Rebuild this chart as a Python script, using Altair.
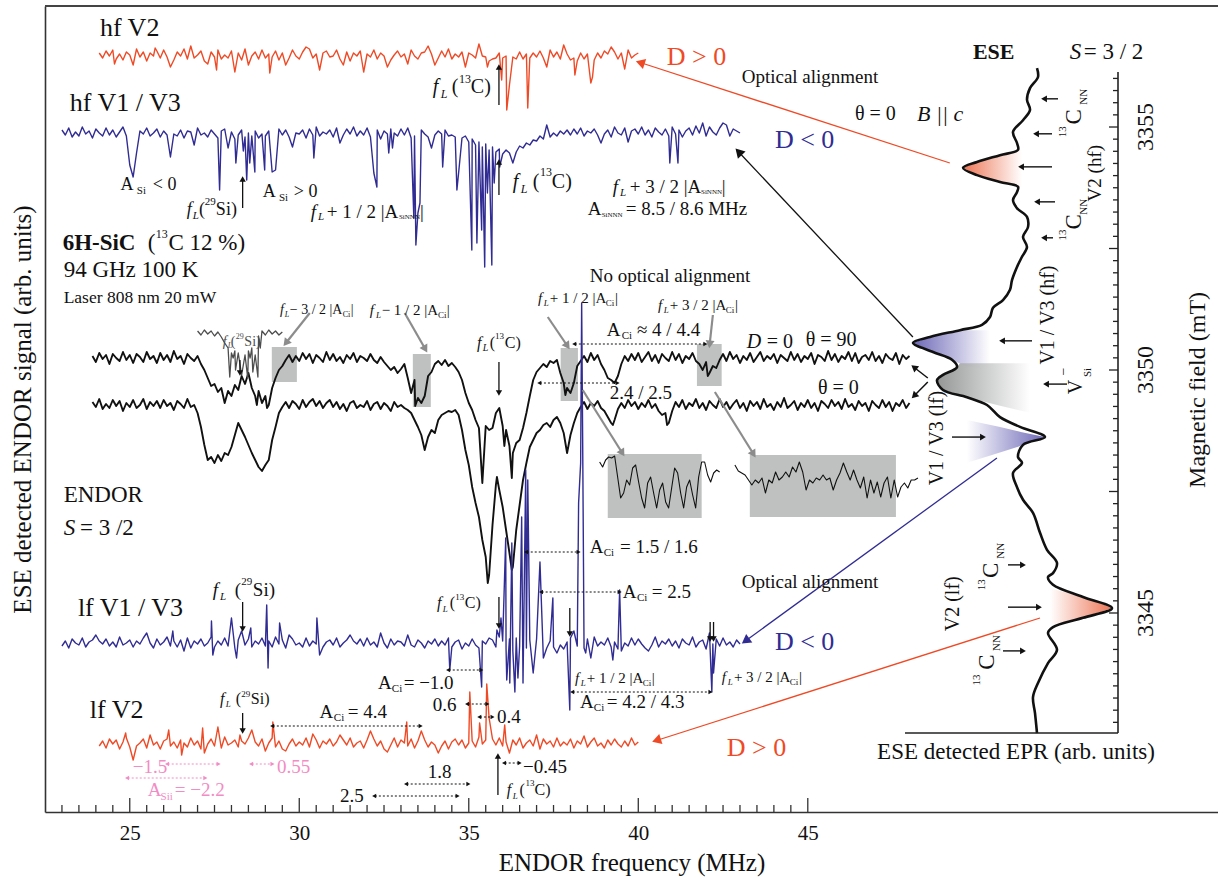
import math
import altair as alt
import pandas as pd
import numpy as np

FONT = "Liberation Serif"
RED = "#EF4A26"
BLUE = "#302C93"
INK = "#111111"
GREY = "#4D4D4D"
ARROW_GREY = "#8C8C8C"
BOX = "#BFC1C1"
PINK = "#F28CC4"

W, H = 1173, 806
X_DOM = [22.5, 57.1]          # ENDOR frequency (MHz)
Y_DOM = [0, 806]              # ENDOR signal (arb. units, stacked)
S_DOM = [-860, 313]           # EPR signal (arb. units)
B_DOM = [3340.905, 3357.49]   # magnetic field (mT)
STEP = 0.1

# ---------------- ENDOR traces (grid values, relative to each baseline) ----------------
HF_V2_START, HF_V2_OFFSET = 24.1, 757
HF_V2 = [2,-3,4,-1,5,-4,1,-5,3,0,-4,6,-2,3,-6,2,-1,4,-3,5,
         -2,1,-5,3,-1,6,-4,2,-3,0,4,-6,1,3,-2,5,-4,0,-3,4,
         -1,2,-5,6,-2,-1,3,-4,5,-3,1,-2,4,-5,2,0,-3,5,-1,-4,
         3,-2,6,-3,1,-5,2,4,-2,-1,5,-4,0,3,-6,2,-1,4,-3,1,
         -2,5,-4,2,-1,3,-5,0,4,-2,1,-3,5,-1,-4,2,3,-5,1,0,
         -3,4,-2,6,-4,1,-2,3,-5,2,0,-3,4,-1,-2,-6,-4,-3,2,-3,
         -1,-5,-2,-4,3,-4,1,-3,2,-2,4,-3,1,5,-2,3,-4,-6,1,-5,
         -3,-6,2,-4,1,-7,-5,2,-3,4,1,-2,3,-4,2,-1,5,-3,0,2]
HF_V2_LINES = [(24.55,-9),(25.1,-10),(25.75,7),(26.2,-12),(26.8,9),(27.3,-9),(27.56,-15),(28.1,-17),
               (28.5,-10),(29.13,-18),(29.6,-10),(30.2,8),(30.6,-15),(31.3,-10),(31.9,-17),(32.6,-12),
               (33.2,-9),(33.8,9),(34.0,-10),(34.9,-12),(35.3,11),(35.55,-12),(35.97,-25),(36.12,-55),
               (36.2,-30),(36.74,-53),(37.3,-12),(37.8,10),(38.13,-20),(38.6,-28),(38.65,-22),(39.2,8),(39.6,-14)]

HF_V13_START, HF_V13_OFFSET = 23.0, 679
HF_V13 = [3,-2,5,-4,1,-3,6,-1,2,-5,4,0,-3,5,-2,3,-4,1,6,-3,
          -2,4,-5,2,-1,5,-3,0,4,-4,2,-2,6,-1,-3,3,-5,2,1,-4,
          5,-2,0,-4,3,-1,-5,2,4,-3,1,-6,-2,3,-4,0,-3,2,-5,-1,
          -3,2,-6,1,4,-2,3,-4,5,0,-1,3,-5,4,-2,6,-3,1,-1,3,
          -4,5,0,-2,4,-1,6,-3,2,-2,5,-4,1,3,-6,2,-1,4,0,-3,
          4,-2,5,-5,-3,1,3,-1,-4,5,-2,2,-1,3,-3,-2,-4,-1,-5,-3,
          -9,-6,-12,-9,-14,-11,-17,-14,-19,-16,-21,-17,-20,-16,-19,-13,-15,-10,-12,-7,
          -8,-3,-6,-1,-4,0,-3,2,-1,3,-2,4,-1,5,-3,2,0,4,-2,5,
          -1,3,-4,6,0,-2,5,-3,2,4,-1,6,-2,3,-4,5,1,-2,4,-3,
          6,-1,3,-4,2,5,-2,7,0,4,-3,6,1,-2,5,-1,8,-3,4,2,
          0]
HF_V13_LINES = [(25.0,-32),(25.1,-44),(25.2,-20),(26.2,-24),(26.9,-12),(27.65,-57),(27.9,-15),(28.13,-30),
                (28.35,-18),(28.45,-47),(28.54,-30),(28.69,-39),(28.98,-37),(29.2,-39),(29.3,-37),(29.8,-14),
                (30.43,-25),(31.2,-10),(32.2,-40),(32.29,-54),(32.64,-20),(32.75,-15),(33.38,-85),(33.44,-112),
                (33.5,-80),(33.56,-70),(33.9,-15),(34.23,-34),(34.65,-57),(34.7,-40),(35.09,-117),(35.24,-110),
                (35.38,-97),(35.47,-134),(35.55,-60),(35.68,-132),(35.75,-50),(35.91,-34),(36.3,-30),(37.3,8),
                (38.9,-10),(39.7,-9),(40.93,-30),(41.17,-30),(41.9,10),(42.5,10)]

B90_START, B90_OFFSET = 23.9, 454
B90 = [2,-4,5,-1,3,-6,4,0,-3,6, -2,3,-5,4,1,-4,6,-1,2,-5, 5,-2,3,-4,7,-1,2,-6,4,0,
       -3,2,-6,-12,-20,-28,-26,-34,-30,-40, -33,-38,-27,-32,-18,-26,-15,-30,-38,-33,
       -45,-38,-47,-30,-20,-12,-8,-2,3,-4, 2,-3,5,-1,4,-5,3,0,-4,6, -2,4,-3,1,-5,3,-1,5,-4,2,
       0,-3,4,-2,-5,1,-4,-8,-12,-9, -15,-11,-6,-20,-35,-22,-40,-25,-38,-18,
       -14,-6,-3,-7,-2,-8,-5,-9,-14,-22, -35,-45,-52,-62,-70,-85,-68,-72,-70,-55,
       -50,-68,-72,-88,-95,-85,-82,-70,-55,-38, -22,-14,-10,-6,-9,-3,-5,-2,-15,-25,
       -30,-20,-25,-8,-3,2,-4,5,-2,3, -6,-12,-20,-22,-25,-18,-6,2,-3,4, -2,5,-4,1,6,-3,3,-5,4,0,
       -3,6,-2,4,-5,2,-1,5,-3,-6, -12,-4,-15,-8,-10,-2,4,-3,6,-1, 3,-5,2,-2,5,-4,1,6,-3,2,
       -1,4,-5,3,0,-3,6,-2,4,-4, 2,-1,5,-6,3,1,-3,7,-2,4, -4,2,-1,6,-3,5,-5,1,3,-2,
       6,-3,2,-5,4,0,-2,5,-6,3, -1,2]
B90_LINES = [(27.8,-45),(28.75,-47),(29.05,-50),(33.42,-48),(33.6,-45),(35.4,-125),(36.05,-88),
             (36.27,-120),(37.85,-37),(38.0,-35),(42.05,-18)]

B0_START, B0_OFFSET = 23.9, 407
B0 = [3,-2,6,-4,1,-3,5,-1,4,-6, 2,-2,5,-3,0,6,-4,3,-1,4, -3,5,-1,2,-5,4,1,-3,6,-2,
      0,-8,-22,-40,-55,-52,-58,-50,-56,-48, -50,-42,-30,-18,-25,-32,-40,-48,-55,-62,
      -66,-60,-55,-35,-22,-8,-2,3,-3,4, 1,-4,5,-2,3,6,-1,4,-3,2, 5,-2,3,-4,1,-6,2,4,-3,0,
      -2,4,-5,1,3,-4,2,-1,-6,3, -2,0,-3,-5,-8,-15,-22,-30,-42,-32,
      -25,-28,-15,-10,-8,-6,-7,-5,-10,-25, -45,-60,-82,-98,-112,-135,-152,-170,-120,-80,
      -85,-102,-125,-148,-162,-125,-100,-75,-58,-42, -35,-28,-25,-20,-18,-22,-15,-12,-18,-28,
      -45,-30,-18,-8,-2,3,-4,2,-1,4, -3,-6,-12,-18,-15,-4,2,-3,5,-1, 3,-4,2,-2,5,-3,1,-6,-10,-8,
      -18,-6,3,-2,5,-4,2,-1,6,-3, 2,-5,4,0,-3,6,-2,3,-4,1, 5,-3,2,-6,4,-1,3,-4,6,-2,
      1,-5,3,-2,7,-3,0,4,-5,2, -2,5,-3,2,-6,4,1,-3,5,-1, 3,-4,6,-2,1,-5,4,-1,2,-6,
      4,0,-3,5,-2,3,-6,2,-1,5, -3,2]
B0_LINES = [(33.7,-45),(35.56,-178),(35.83,-72),(36.27,-165),(37.9,-48),(39.25,-20),(40.85,-20)]

SI_START, SI_OFFSET = 27.0, 479
SI = [2,-2,3,-1,2,-3,1,-4,-10,-15,-20,-18,-22,-25,-20,-18,-15,-8,-3,2,-2,3,-1,2,-2,1]
SI_LINES = [(27.95,-44),(28.05,-25),(28.12,-37),(28.2,-20),(28.3,-42),(28.4,-22),(28.48,-45),
            (28.55,-25),(28.63,-39),(28.7,-22),(28.78,-44),(28.85,-15)]

LF_V13_START, LF_V13_OFFSET = 23.0, 169
LF_V13 = [-3,2,-5,4,0,-2,5,-4,1,3,-6,2,-1,4,-3,1,-4,6,-2,0,
          3,-4,2,-1,5,-3,0,-5,4,-2,1,6,-3,2,-4,3,-1,5,-5,2,
          -1,4,-3,0,6,-4,2,-2,5,-3,1,-5,3,0,-2,4,-4,2,-1,5,
          -3,2,-4,6,-1,3,-5,1,4,-2,0,-4,5,-3,2,-1,6,-4,1,3,
          -2,5,-4,0,3,-6,2,-1,4,-3,5,-2,1,-4,3,0,-5,4,-2,2,
          1,-3,6,-2,-4,3,0,-5,2,-1,4,-3,2,-2,5,-4,1,3,-6,0,
          -3,4,-2,-5,2,-1,5,3,-4,6,2,-6,4,-8,5,-3,8,-5,3,-6,
          4,-3,6,-5,2,-4,3,-2,-6,1,5,-4,-3,2,-5,4,-1,6,-3,1,
          -2,5,-4,1,-6,3,0,-3,5,-2,4,-1,-5,3,-2,6,-4,2,-1,4,
          -3,2,-5,4,0,-2,6,-4,1,3,-6,2,-1,4,-3,5,-2,1,-4,3,
          -1]
LF_V13_LINES = [(24.0,8),(25.5,10),(26.27,12),(26.6,-8),(27.41,22),(27.45,-12),(28.0,25),(28.15,-15),
                (28.3,12),(28.57,15),(29.04,38),(29.08,-25),(29.42,20),(29.7,8),(30.52,25),(30.6,-12),
                (31.5,8),(32.4,10),(33.2,8),(34.44,-27),(35.38,-44),(35.83,13),(35.95,25),(36.09,105),
                (36.12,-37),(36.21,-40),(36.27,100),(36.36,-49),(36.45,-35),(36.56,126),(36.6,-40),
                (36.68,173),(36.74,163),(36.9,-30),(37.1,81),(37.2,-15),(37.48,45),(37.6,-10),(37.98,-67),
                (38.1,12),(38.24,140),(38.3,180),(38.33,340),(38.36,200),(38.45,-10),(38.6,-15),
                (39.25,-17),(39.45,53),(39.5,-8),(40.3,-8),(42.1,10),(42.17,-49),(42.22,-30)]

LF_V2_START, LF_V2_OFFSET = 24.1, 69
LF_V2 = [-3,2,-5,4,-1,3,-6,1,5,-4,2,-3,0,4,-5,3,-2,1,-6,2,
         4,-3,1,-5,3,0,-4,5,-2,2,-6,3,-1,4,-3,1,-5,6,-2,0,
         3,-4,2,-1,5,-5,1,-3,4,-2,0,5,-4,2,-6,3,-1,4,-3,1,
         -2,5,-4,0,3,-5,2,-1,4,-3,1,-6,3,-2,5,-4,0,2,-5,3,
         -1,4,-3,2,-6,1,-2,5,-4,3,0,-3,4,-5,2,-1,3,-4,1,-2,
         5,-3,2,-6,1,4,-2,3,-5,0,2,-4,6,-1,3,-5,4,-2,5,-3,
         1,-4,3,-2,5,-5,0,3,-3,2,-6,4,-1,2,-4,5,-3,1,-2,4,
         -5,2,-1,3,-4,1,5,-3,0,-5,3,-2,4,-1,-4,2,-3,5,-2,1]
LF_V2_LINES = [(24.88,10),(25.1,-17),(25.6,8),(26.15,13),(26.53,-12),(27.15,15),(27.2,-10),(27.6,16),
               (28.25,8),(28.6,13),(29.0,-8),(29.22,21),(29.6,-8),(30.4,9),(31.2,8),(32.1,12),(32.6,-9),
               (33.17,21),(33.6,12),(34.1,-10),(35.03,51),(35.32,20),(35.53,59),(35.6,25),(36.06,18),
               (36.2,-10),(37.0,8),(38.4,7)]

# magnified insets (grey boxes)
INSET1_START, INSET1_STEP, INSET1_BASE = 38.86, 0.0885, 330
INSET1 = [20,15,22,25,24,26,5,-16,-11,2,-3,14,17,0,-16,-26,-1,5,-11,-26,-8,-1,-20,-26,-6,
          14,9,-11,-26,-5,2,-13,-26,5,20,20,7,0,9,12,10]
INSET2_START, INSET2_STEP, INSET2_BASE = 42.85, 0.1, 332
INSET2 = [15,9,7,5,0,-5,0,-3,2,-13,0,-3,8,0,3,8,3,13,8,18,8,-10,0,-3,2,0,5,0,2,-10,0,7,17,8,0,
          10,0,-8,3,-18,0,-13,-2,-17,-3,3,-18,0,-17,-7,-3,-8,0,0,2]

# highlighted regions (x1, x2, y1, y2)
BOXES = [(29.19,29.93,430,465),(33.35,33.88,405,458),(37.71,38.22,411,464),(41.73,42.46,426,468),
         (39.10,41.87,294,358),(43.29,47.60,295,357)]

# ---------------- ESE-detected EPR spectrum ----------------
EPR_B = [3356.21,3356.03,3355.80,3355.56,3355.35,3355.14,3354.90,3354.67,3354.53,3354.42,3354.28,3354.16,
         3354.01,3353.87,3353.77,3353.66,3353.50,3353.33,3353.15,3352.94,3352.74,3352.53,3352.33,3352.12,
         3351.85,3351.65,3351.44,3351.28,3351.09,3350.93,3350.82,3350.68,3350.56,3350.37,3350.21,3350.06,
         3349.90,3349.79,3349.59,3349.44,3349.28,3349.03,3348.83,3348.62,3348.46,3348.21,3348.09,3347.88,
         3347.59,3347.33,3347.06,3346.65,3346.30,3346.03,3345.82,3345.74,3345.58,3345.33,3345.10,3344.90,
         3344.71,3344.59,3344.24,3343.97,3343.56,3343.27,3342.94,3342.53]
EPR_S = [132,133,125,122,125,118,108,112,113,95,72,58,
         72,95,113,112,108,112,122,123,118,122,117,112,
         107,105,98,88,85,77,55,25,8,28,47,52,
         38,32,38,62,82,95,115,140,118,113,117,108,
         112,118,128,135,142,152,148,143,148,178,207,178,
         148,143,152,143,133,128,130,132]

# shaded peak regions (field, left edge, right edge)
CONE_V2HF = ([3354.53,3354.42,3354.28,3354.16,3354.01,3353.87,3353.77],[113,95,72,58,72,95,113],[117]*7)
CONE_V13HF = ([3350.82,3350.68,3350.56,3350.37,3350.21,3350.08,3350.00],[55,25,8,28,47,60,85],[85]*7)
CONE_VSI = ([3350.14,3350.06,3349.90,3349.79,3349.59,3349.44,3349.28,3349.12],[55,52,38,32,38,62,92,125],[125]*8)
CONE_V13LF = ([3348.97,3348.83,3348.72,3348.62,3348.52,3348.42,3348.25,3348.09],[62]*8,[62,94,117,140,125,113,87,62])
CONE_V2LF = ([3345.51,3345.33,3345.23,3345.10,3345.00,3344.90,3344.75],[145]*7,[145,178,192,207,192,178,145])

EPR_AXIS_S = 213
EPR_AXIS_B = [3342.53, 3356.13]
EPR_TICKS = np.round(np.arange(3342.75, 3356.01, 0.25), 2)
EPR_MAJOR = [3345, 3347.5, 3350, 3352.5, 3355]
EPR_ARROWS = [(3355.58,153,140),(3354.86,147,132),(3354.18,147,117),(3353.46,150,133),(3352.72,148,140),
              (3350.60,127,98),(3349.71,162,142),(3348.62,47,77),(3345.99,103,117),(3345.12,103,133),
              (3344.22,98,117)]

X_MAJOR = [25, 30, 35, 40, 45]
X_MINOR = [v for v in np.arange(23.0, 45.01, 0.5) if v not in X_MAJOR]

# ---------------- annotations ----------------
CONNECTORS = [(49.19,649,40.10,749,RED),(48.10,475,42.99,659,INK),(50.58,354,43.20,172,BLUE),(51.85,194,40.58,72,RED)]
GREY_ARROWS = [(30.31,499,29.63,470),(33.11,499,33.70,464),(37.33,495,37.89,467),(42.20,497,42.11,469),
               (38.36,422,39.51,360),(42.26,420,43.38,359)]
THETA_ARROWS = [(48.54,434,48.16,444),(48.54,430,48.16,417)]
V_ARROWS = [(35.89,707,744),(28.33,604,632),(35.89,617,649),(35.89,450,420),(28.25,452,440),(28.33,210,184),
            (35.89,215,187),(37.98,204,179),(42.12,190,174),(42.22,190,174),(28.33,99,82),(35.86,17,55)]
SPAN_ARROWS = [(38.13,41.96,468,INK),(37.10,39.37,429,INK),(36.71,38.22,260,INK),(37.15,39.43,220,INK),
               (34.41,35.35,142,INK),(38.07,42.11,120,INK),(34.97,35.53,108,INK),(35.33,35.68,95,INK),
               (29.22,33.56,86,INK),(33.17,34.97,28,INK),(32.23,34.65,16,INK),(36.06,36.48,49,INK),
               (26.12,27.60,48,PINK),(28.60,29.19,48,PINK),(24.94,27.21,34,PINK)]

MAIN_TEXT = [
    (24.12, 784, "hf V2", 26, "n", INK),
    (23.23, 709, "hf V1 / V3", 26, "n", INK),
    (23.02, 569, "6H-SiC", 23, "b", INK),
    (25.53, 569, "(", 23, "n", INK), (25.77, 578, "13", 12, "n", INK), (26.14, 569, "C 12 %)", 23, "n", INK),
    (23.05, 542, "94 GHz  100 K", 23, "n", INK),
    (23.05, 514, "Laser 808 nm 20 mW", 17.5, "n", INK),
    (23.05, 317, "ENDOR", 23, "n", INK),
    (23.05, 284, "S", 23, "i", INK), (23.53, 284, "= 3 /2", 23, "n", INK),
    (23.47, 204, "lf V1 / V3", 26, "n", INK),
    (23.82, 102, "lf V2", 26, "n", INK),
    (40.84, 755, "D > 0", 26, "n", RED),
    (44.03, 672, "D < 0", 26, "n", BLUE),
    (43.05, 735, "Optical alignment", 19, "n", INK),
    (46.39, 698, "θ = 0", 20, "n", INK), (48.22, 698, "B || c", 22, "i", INK),
    (49.87, 760, "ESE", 22, "b", INK),
    (52.73, 760, "S", 23, "i", INK), (53.14, 760, "= 3 / 2", 23, "n", INK),
    (38.57, 536, "No optical alignment", 19, "n", INK),
    (43.20, 470, "D", 20, "i", INK), (43.79, 470, "= 0", 20, "n", INK), (44.94, 472, "θ = 90", 20, "n", INK),
    (45.30, 424, "θ = 0", 20, "n", INK),
    (43.05, 230, "Optical alignment", 19, "n", INK),
    (44.03, 170, "D < 0", 26, "n", BLUE),
    (42.61, 64, "D > 0", 26, "n", RED),
    (33.94, 725, "f", 20, "i", INK), (34.17, 718, "L", 12, "i", INK), (34.50, 725, "(", 20, "n", INK),
    (34.71, 733, "13", 12, "n", INK), (35.06, 725, "C)", 20, "n", INK),
    (26.68, 602, "f", 18, "i", INK), (26.86, 596, "L", 11, "i", INK), (27.04, 602, "(", 18, "n", INK),
    (27.21, 610, "29", 11, "n", INK), (27.54, 602, "Si)", 18, "n", INK),
    (24.73, 627, "A", 18, "n", INK), (25.21, 621, "Si", 11, "n", INK), (25.68, 627, "< 0", 18, "n", INK),
    (28.92, 620, "A", 18, "n", INK), (29.40, 614, "Si", 11, "n", INK), (29.84, 620, "> 0", 18, "n", INK),
    (30.34, 600, "f", 19, "i", INK), (30.55, 595, "L", 11, "i", INK), (30.81, 600, "+ 1 / 2 |A", 19, "n", INK),
    (32.94, 595, "SiNNN", 7, "n", INK), (33.56, 600, "|", 19, "n", INK),
    (36.30, 630, "f", 20, "i", INK), (36.53, 623, "L", 12, "i", INK), (36.89, 630, "(", 20, "n", INK),
    (37.10, 640, "13", 12, "n", INK), (37.45, 630, "C)", 20, "n", INK),
    (39.25, 625, "f", 19, "i", INK), (39.46, 619, "L", 11, "i", INK), (39.75, 625, "+ 3 / 2 |A", 19, "n", INK),
    (41.85, 620, "SiNNN", 7, "n", INK), (42.46, 625, "|", 19, "n", INK),
    (38.51, 603, "A", 19, "n", INK), (38.92, 597, "SiNNN", 7, "n", INK), (39.63, 603, "= 8.5 / 8.6 MHz", 19, "n", INK),
    (27.74, 470, "f", 14, "i", GREY), (27.89, 466, "L", 8, "i", GREY), (27.98, 470, "(", 14, "n", GREY),
    (28.13, 475, "29", 8, "n", GREY), (28.38, 470, "Si)", 14, "n", GREY),
    (29.43, 502, "f", 14, "i", INK), (29.57, 497, "L", 8, "i", INK), (29.72, 502, "− 3 / 2 |A", 14, "n", INK),
    (31.28, 497, "Ci", 8, "n", INK), (31.52, 502, "|", 14, "n", INK),
    (32.08, 502, "f", 15, "i", INK), (32.26, 497, "L", 9, "i", INK), (32.43, 502, "− 1 / 2 |A", 15, "n", INK),
    (34.09, 497, "Ci", 9, "n", INK), (34.35, 502, "|", 15, "n", INK),
    (37.04, 514, "f", 15, "i", INK), (37.21, 509, "L", 9, "i", INK), (37.39, 514, "+ 1 / 2 |A", 15, "n", INK),
    (39.04, 509, "Ci", 9, "n", INK), (39.31, 514, "|", 15, "n", INK),
    (40.58, 507, "f", 15, "i", INK), (40.75, 502, "L", 9, "i", INK), (40.93, 507, "+ 3 / 2 |A", 15, "n", INK),
    (42.58, 502, "Ci", 9, "n", INK), (42.85, 507, "|", 15, "n", INK),
    (35.24, 469, "f", 16, "i", INK), (35.41, 464, "L", 10, "i", INK), (35.62, 469, "(", 16, "n", INK),
    (35.77, 476, "13", 9, "n", INK), (36.06, 469, "C)", 16, "n", INK),
    (39.07, 482, "A", 19, "n", INK), (39.51, 476, "Ci", 11, "n", INK), (39.96, 482, "≈ 4 / 4.4", 19, "n", INK),
    (39.16, 419, "2.4 / 2.5", 19, "n", INK),
    (38.57, 265, "A", 19, "n", INK), (38.98, 259, "Ci", 11, "n", INK), (39.46, 265, "= 1.5 / 1.6", 19, "n", INK),
    (27.45, 222, "f", 19, "i", INK), (27.66, 215, "L", 11, "i", INK), (28.10, 222, "(", 19, "n", INK),
    (28.29, 230, "29", 11, "n", INK), (28.63, 222, "Si)", 19, "n", INK),
    (34.06, 209, "f", 16, "i", INK), (34.23, 203, "L", 9, "i", INK), (34.44, 209, "(", 16, "n", INK),
    (34.60, 215, "13", 9, "n", INK), (34.88, 209, "C)", 16, "n", INK),
    (39.54, 220, "A", 19, "n", INK), (39.96, 214, "Ci", 11, "n", INK), (40.40, 220, "= 2.5", 19, "n", INK),
    (32.32, 129, "A", 19, "n", INK), (32.73, 123, "Ci", 11, "n", INK), (33.08, 129, "= −1.0", 19, "n", INK),
    (38.13, 134, "f", 15, "i", INK), (38.30, 129, "L", 9, "i", INK), (38.48, 134, "+ 1 / 2 |A", 15, "n", INK),
    (40.13, 129, "Ci", 9, "n", INK), (40.40, 134, "|", 15, "n", INK),
    (42.46, 135, "f", 15, "i", INK), (42.64, 130, "L", 9, "i", INK), (42.82, 135, "+ 3 / 2 |A", 15, "n", INK),
    (44.47, 130, "Ci", 9, "n", INK), (44.74, 135, "|", 15, "n", INK),
    (38.28, 110, "A", 19, "n", INK), (38.69, 104, "Ci", 11, "n", INK), (39.07, 110, "= 4.2 / 4.3", 19, "n", INK),
    (33.94, 107, "0.6", 19, "n", INK),
    (35.83, 95, "0.4", 19, "n", INK),
    (27.66, 113, "f", 16, "i", INK), (27.83, 108, "L", 9, "i", INK), (28.13, 113, "(", 16, "n", INK),
    (28.29, 118, "29", 9, "n", INK), (28.57, 113, "Si)", 16, "n", INK),
    (30.60, 100, "A", 19, "n", INK), (31.02, 94, "Ci", 11, "n", INK), (31.43, 100, "= 4.4", 19, "n", INK),
    (33.79, 40, "1.8", 19, "n", INK),
    (31.20, 16, "2.5", 19, "n", INK),
    (36.60, 45, "−0.45", 19, "n", INK),
    (36.12, 22, "f", 16, "i", INK), (36.30, 16, "L", 9, "i", INK), (36.50, 22, "(", 16, "n", INK),
    (36.67, 29, "13", 9, "n", INK), (36.94, 22, "C)", 16, "n", INK),
    (25.09, 45, "−1.5", 19, "n", PINK),
    (29.34, 45, "0.55", 19, "n", PINK),
    (25.53, 22, "A", 19, "n", PINK), (25.91, 15, "Sii", 11, "n", PINK), (26.33, 22, "= −2.2", 19, "n", PINK),
]

EPR_TEXT = [
    (190, 3354.05, "V2 (hf)", 19, 270),
    (158, 3354.90, "13", 11, 270), (169, 3355.21, "C", 23, 270), (179, 3355.62, "NN", 11, 270),
    (158, 3352.78, "13", 11, 270), (169, 3353.05, "C", 23, 270), (179, 3353.36, "NN", 11, 270),
    (143, 3351.13, "V1 / V3 (hf)", 20, 270),
    (171, 3349.65, "V", 20, 270), (183, 3349.95, "Si", 11, 270), (159, 3349.97, "−", 14, 270),
    (32, 3348.60, "V1 / V3 (lf)", 20, 270),
    (77, 3345.58, "13", 11, 270), (86, 3345.88, "C", 23, 270), (96, 3346.28, "NN", 11, 270),
    (48, 3345.19, "V2 (lf)", 20, 270),
    (72, 3343.62, "13", 11, 270), (82, 3343.99, "C", 23, 270), (92, 3344.38, "NN", 11, 270),
    (241, 3355, "3355", 24, 270), (241, 3350, "3350", 24, 270), (241, 3345, "3345", 24, 270),
    (293, 3349.59, "Magnetic field (mT)", 24, 270),
    (111, 3342.14, "ESE detected EPR (arb. units)", 23, 0),
]

# ---------------- helpers ----------------
PX_PER_MHZ = W / (X_DOM[1] - X_DOM[0])
PX_PER_Y = H / (Y_DOM[1] - Y_DOM[0])


def trace(start, vals, offset, lines=(), step=STEP):
    pts = {}
    for i, v in enumerate(vals):
        pts[round(start + i * step, 3)] = offset + v
    for sx, sv in lines:
        pts[round(sx, 3)] = offset + sv
    xs = sorted(pts)
    return pd.DataFrame({"x": xs, "y": [pts[k] for k in xs]})


def head_angle(x1, y1, x2, y2):
    dx = (x2 - x1) * PX_PER_MHZ
    dy = -(y2 - y1) * PX_PER_Y
    return math.degrees(math.atan2(dx, -dy)) % 360


XS = alt.Scale(domain=X_DOM, nice=False, zero=False)
YS = alt.Scale(domain=Y_DOM, nice=False, zero=False)
SS = alt.Scale(domain=S_DOM, nice=False, zero=False)
BS = alt.Scale(domain=B_DOM, nice=False, zero=False)

XAX = alt.Axis(values=X_MAJOR, ticks=False, tickSize=0, grid=False, domain=True, domainColor="#333333",
               domainWidth=1.6, labelFont=FONT, labelFontSize=21, labelColor=INK, labelPadding=10,
               labelFlush=False, title="ENDOR frequency (MHz)", titleFont=FONT, titleFontSize=25,
               titleFontWeight="normal", titleColor=INK, titlePadding=7)
YAX = alt.Axis(ticks=False, tickSize=0, labels=False, grid=False, domain=True, domainColor="#333333",
               domainWidth=1.6, title="ESE detected ENDOR signal (arb. units)", titleFont=FONT,
               titleFontSize=25, titleFontWeight="normal", titleColor=INK, titlePadding=10)


def mx(f="x"):
    return alt.X(f"{f}:Q", scale=XS, axis=XAX)


def my(f="y"):
    return alt.Y(f"{f}:Q", scale=YS, axis=YAX)


def ex(f="s"):
    return alt.X(f"{f}:Q", scale=SS, axis=None)


def ey(f="b"):
    return alt.Y(f"{f}:Q", scale=BS, axis=None)


def line_layer(df, color, width):
    return alt.Chart(df).mark_line(color=color, strokeWidth=width, strokeJoin="round").encode(x=mx(), y=my())


def seg_layer(df, width, dash=None):
    kw = dict(strokeWidth=width)
    if dash:
        kw["strokeDash"] = dash
    return alt.Chart(df).mark_rule(**kw).encode(
        x=mx("x"), x2=alt.X2("x2"), y=my("y"), y2=alt.Y2("y2"), color=alt.Color("c:N", scale=None))


def head_layer(df):
    return alt.Chart(df).mark_point(shape="triangle", filled=True, opacity=1, strokeWidth=0).encode(
        x=mx("x"), y=my("y"), angle=alt.Angle("a:Q", scale=None), color=alt.Color("c:N", scale=None),
        size=alt.Size("sz:Q", scale=None))


def grad(c0, c1):
    return alt.Gradient(gradient="linear", stops=[alt.GradientStop(color=c0, offset=0),
                                                  alt.GradientStop(color=c1, offset=1)],
                        x1=0, x2=1, y1=0, y2=0)


# ---------------- main (ENDOR) layers ----------------
main_layers = []

box_df = pd.DataFrame(BOXES, columns=["x", "x2", "y", "y2"])
main_layers.append(alt.Chart(box_df).mark_rect(color=BOX).encode(
    x=mx("x"), x2=alt.X2("x2"), y=my("y"), y2=alt.Y2("y2")))

# x ticks (inward) and top frame line
tick_df = pd.DataFrame({"x": X_MAJOR + X_MINOR, "x2": X_MAJOR + X_MINOR, "y": 0,
                        "y2": [14] * len(X_MAJOR) + [7] * len(X_MINOR), "c": "#333333"})
main_layers.append(seg_layer(tick_df, 1.3))
frame_df = pd.DataFrame({"x": [X_DOM[0]], "x2": [X_DOM[1]], "y": [Y_DOM[1]], "y2": [Y_DOM[1]], "c": ["#444444"]})
main_layers.append(seg_layer(frame_df, 2))

main_layers.append(line_layer(trace(B90_START, B90, B90_OFFSET, B90_LINES), INK, 1.9))
main_layers.append(line_layer(trace(B0_START, B0, B0_OFFSET, B0_LINES), INK, 1.9))
main_layers.append(line_layer(trace(SI_START, SI, SI_OFFSET, SI_LINES), GREY, 1.3))

ins1 = pd.DataFrame({"x": [INSET1_START + i * INSET1_STEP for i in range(len(INSET1))],
                     "y": [INSET1_BASE + v for v in INSET1]})
ins2 = pd.DataFrame({"x": [INSET2_START + i * INSET2_STEP for i in range(len(INSET2))],
                     "y": [INSET2_BASE + v for v in INSET2]})
main_layers.append(line_layer(ins1, INK, 1.1))
main_layers.append(line_layer(ins2, INK, 1.1))

main_layers.append(line_layer(trace(HF_V13_START, HF_V13, HF_V13_OFFSET, HF_V13_LINES), BLUE, 1.4))
main_layers.append(line_layer(trace(LF_V13_START, LF_V13, LF_V13_OFFSET, LF_V13_LINES), BLUE, 1.4))
main_layers.append(line_layer(trace(HF_V2_START, HF_V2, HF_V2_OFFSET, HF_V2_LINES), RED, 1.4))
main_layers.append(line_layer(trace(LF_V2_START, LF_V2, LF_V2_OFFSET, LF_V2_LINES), RED, 1.4))

# connectors and arrows
con_df = pd.DataFrame([(a, b, c, d, col) for a, b, c, d, col in CONNECTORS], columns=["x", "y", "x2", "y2", "c"])
main_layers.append(seg_layer(con_df, 1.3))
heads = [(c, d, head_angle(a, b, c, d), col, 110) for a, b, c, d, col in CONNECTORS]

ga_df = pd.DataFrame([(a, b, c, d, ARROW_GREY) for a, b, c, d in GREY_ARROWS], columns=["x", "y", "x2", "y2", "c"])
main_layers.append(seg_layer(ga_df, 2.2))
heads += [(c, d, head_angle(a, b, c, d), ARROW_GREY, 80) for a, b, c, d in GREY_ARROWS]

ta_df = pd.DataFrame([(a, b, c, d, INK) for a, b, c, d in THETA_ARROWS], columns=["x", "y", "x2", "y2", "c"])
main_layers.append(seg_layer(ta_df, 1.5))
heads += [(c, d, head_angle(a, b, c, d), INK, 60) for a, b, c, d in THETA_ARROWS]

va_df = pd.DataFrame([(x, y1, x, y2, INK) for x, y1, y2 in V_ARROWS], columns=["x", "y", "x2", "y2", "c"])
main_layers.append(seg_layer(va_df, 1.3))
heads += [(x, y2, 0 if y2 > y1 else 180, INK, 40) for x, y1, y2 in V_ARROWS]

sp_df = pd.DataFrame([(x1, y, x2, y, col) for x1, x2, y, col in SPAN_ARROWS], columns=["x", "y", "x2", "y2", "c"])
main_layers.append(seg_layer(sp_df, 1.0, dash=[2, 2]))
heads += [(x1, y, 270, col, 22) for x1, x2, y, col in SPAN_ARROWS]
heads += [(x2, y, 90, col, 22) for x1, x2, y, col in SPAN_ARROWS]

main_layers.append(head_layer(pd.DataFrame(heads, columns=["x", "y", "a", "c", "sz"])))

# texts
txt_df = pd.DataFrame(MAIN_TEXT, columns=["x", "y", "t", "size", "style", "color"])
for style in ["n", "i", "b"]:
    sub = txt_df[txt_df["style"] == style]
    if len(sub) == 0:
        continue
    kw = dict(font=FONT, align="left", baseline="middle")
    if style == "i":
        kw["fontStyle"] = "italic"
    if style == "b":
        kw["fontWeight"] = "bold"
    main_layers.append(alt.Chart(sub).mark_text(**kw).encode(
        x=mx("x"), y=my("y"), text=alt.Text("t:N"),
        size=alt.Size("size:Q", scale=None), color=alt.Color("color:N", scale=None)))

main = alt.layer(*main_layers)

# ---------------- EPR layers ----------------
epr_layers = []
cones = [(CONE_V2HF, "#EC6E4C", "#FFFFFF"), (CONE_V13HF, "#6560B3", "#FFFFFF"),
         (CONE_VSI, "#8F9191", "#FFFFFF"), (CONE_V13LF, "#FFFFFF", "#6560B3"),
         (CONE_V2LF, "#FFFFFF", "#EC6E4C")]
for (bb, sl, sr), c0, c1 in cones:
    cdf = pd.DataFrame({"b": bb, "sl": sl, "sr": sr})
    epr_layers.append(alt.Chart(cdf).mark_area(orient="horizontal", color=grad(c0, c1), opacity=0.95).encode(
        y=ey("b"), x=ex("sl"), x2=alt.X2("sr")))

epr_df = pd.DataFrame({"b": EPR_B, "s": EPR_S, "i": list(range(len(EPR_B)))})
epr_layers.append(alt.Chart(epr_df).mark_line(color=INK, strokeWidth=2.6, interpolate="catmull-rom").encode(
    x=ex("s"), y=ey("b"), order=alt.Order("i:Q")))

ax_df = pd.DataFrame({"s": [EPR_AXIS_S, 0], "s2": [EPR_AXIS_S, EPR_AXIS_S],
                      "b": [EPR_AXIS_B[0], EPR_AXIS_B[0]], "b2": [EPR_AXIS_B[1], EPR_AXIS_B[0]]})
epr_layers.append(alt.Chart(ax_df).mark_rule(color="#222222", strokeWidth=1.6).encode(
    x=ex("s"), x2=alt.X2("s2"), y=ey("b"), y2=alt.Y2("b2")))

tk = pd.DataFrame({"b": EPR_TICKS})
tk["s2"] = EPR_AXIS_S
tk["s"] = [EPR_AXIS_S - (9 if any(abs(v - m) < 1e-6 for m in EPR_MAJOR) else 5) for v in EPR_TICKS]
epr_layers.append(alt.Chart(tk).mark_rule(color="#222222", strokeWidth=1.3).encode(
    x=ex("s"), x2=alt.X2("s2"), y=ey("b")))

ea_df = pd.DataFrame(EPR_ARROWS, columns=["b", "s", "s2"])
epr_layers.append(alt.Chart(ea_df).mark_rule(color=INK, strokeWidth=1.4).encode(
    x=ex("s"), x2=alt.X2("s2"), y=ey("b")))
eh_df = pd.DataFrame({"b": [r[0] for r in EPR_ARROWS], "s": [r[2] for r in EPR_ARROWS],
                      "a": [270 if r[2] < r[1] else 90 for r in EPR_ARROWS]})
epr_layers.append(alt.Chart(eh_df).mark_point(shape="triangle", filled=True, opacity=1, size=45,
                                              color=INK, strokeWidth=0).encode(
    x=ex("s"), y=ey("b"), angle=alt.Angle("a:Q", scale=None)))

et_df = pd.DataFrame(EPR_TEXT, columns=["s", "b", "t", "size", "angle"])
epr_layers.append(alt.Chart(et_df).mark_text(font=FONT, align="center", baseline="middle", color=INK).encode(
    x=ex("s"), y=ey("b"), text=alt.Text("t:N"), size=alt.Size("size:Q", scale=None),
    angle=alt.Angle("angle:Q", scale=None)))

epr = alt.layer(*epr_layers)

chart = alt.layer(main, epr).resolve_scale(x="independent", y="independent").properties(
    width=W, height=H,
    padding={"left": 45, "top": 6, "right": 0, "bottom": 67},
    autosize=alt.AutoSizeParams(type="none"),
    background="white",
).configure_view(stroke=None)

chart.save("out.html", embed_options={"renderer": "svg", "actions": False})
